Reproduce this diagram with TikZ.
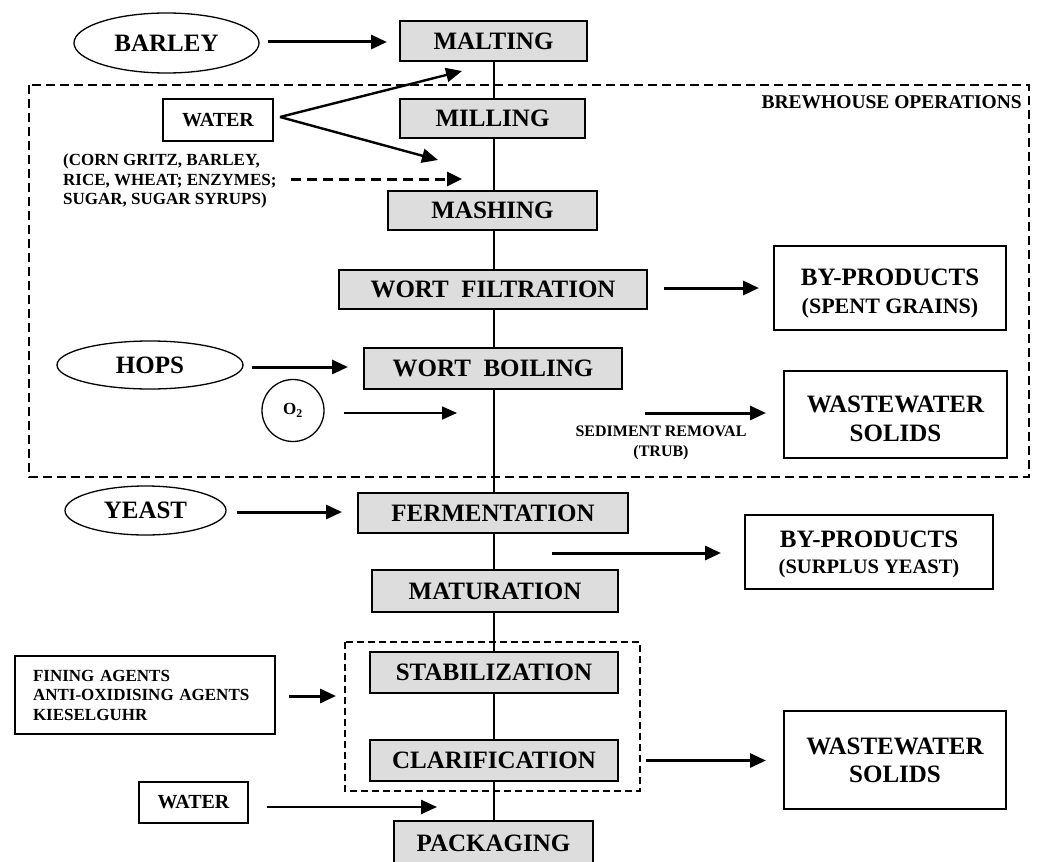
\documentclass[tikz,border=0pt]{standalone}
\usepackage{fontspec}
\setmainfont{Liberation Serif}
\usetikzlibrary{arrows.meta,shapes.geometric}
\definecolor{boxgray}{RGB}{221,221,221}
\newcommand\fbig{\fontsize{25}{29}\selectfont\bfseries}
\newcommand\fmid{\fontsize{22}{28}\selectfont\bfseries}
\newcommand\fwat{\fontsize{20}{24}\selectfont\bfseries}
\newcommand\fsmall{\fontsize{17}{19.5}\selectfont\bfseries}
\newcommand\ftiny{\fontsize{16}{20}\selectfont\bfseries}
\begin{document}
\begin{tikzpicture}[x=1pt,y=-1pt]
\useasboundingbox (0,0) rectangle (1040,861);
\tikzset{
  proc/.style={draw, line width=2pt, fill=boxgray, inner sep=0pt, font=\fbig},
  outbox/.style={draw, line width=2pt, inner sep=0pt, align=center},
  inbox/.style={draw, line width=2pt, inner sep=0pt, font=\fwat},
  inell/.style={draw, ellipse, line width=1.3pt, inner sep=0pt, font=\fbig},
  arr/.style={line width=3pt, -{Triangle[length=16pt,width=14pt]}},
  thinarr/.style={line width=2.4pt, -{Triangle[length=16pt,width=14pt]}},
  oarr/.style={line width=1.6pt, -{Triangle[length=15pt,width=13pt]}},
  dasharr/.style={line width=3pt, dash pattern=on 10pt off 6pt, -{Triangle[length=15pt,width=14pt]}},
  spine/.style={line width=2pt},
  region/.style={line width=2pt, dash pattern=on 9pt off 5pt},
  subregion/.style={line width=1.6pt, dash pattern=on 7pt off 4pt}
}
% regions
\draw[region] (29,85) rectangle (1029,477);
\draw[subregion] (345,642) rectangle (640,791);
\node[anchor=east, inner sep=0pt, font=\fontsize{19.5}{22}\selectfont\bfseries] (brew) at (1022,102) {BREWHOUSE OPERATIONS};

% spine coordinate
\coordinate (sp) at (494,0);

% process boxes
\node[proc, minimum width=187pt, minimum height=40pt] (malt) at (493.5,41) {MALTING};
\node[proc, minimum width=185pt, minimum height=39pt] (mill) at (492.5,118.5) {MILLING};
\node[proc, minimum width=209pt, minimum height=39pt] (mash) at (492.5,210.5) {MASHING};
\node[proc, minimum width=308pt, minimum height=39pt] (filt) at (493,289.5) {WORT\ \ FILTRATION};
\node[proc, minimum width=258pt, minimum height=41pt] (boil) at (493,368.5) {WORT\ \ BOILING};
\node[proc, minimum width=270pt, minimum height=40pt] (ferm) at (493,513) {FERMENTATION};
\node[proc, minimum width=246pt, minimum height=42pt] (matu) at (495,591) {MATURATION};
\node[proc, minimum width=248pt, minimum height=41pt] (stab) at (494,672.5) {STABILIZATION};
\node[proc, minimum width=248pt, minimum height=41pt] (clar) at (494,760.5) {CLARIFICATION};
\node[proc, minimum width=199pt, minimum height=44pt] (pack) at (493.5,843) {PACKAGING};

% spine connectors
\draw[spine] (malt.south -| sp) -- (mill.north -| sp);
\draw[spine] (mill.south -| sp) -- (mash.north -| sp);
\draw[spine] (mash.south -| sp) -- (filt.north -| sp);
\draw[spine] (filt.south -| sp) -- (boil.north -| sp);
\draw[spine] (boil.south -| sp) -- (ferm.north -| sp);
\draw[spine] (ferm.south -| sp) -- (matu.north -| sp);
\draw[spine] (matu.south -| sp) -- (stab.north -| sp);
\draw[spine] (stab.south -| sp) -- (clar.north -| sp);
\draw[spine] (clar.south -| sp) -- (pack.north -| sp);

% inputs
\node[inell, minimum width=185pt, minimum height=60pt] (barley) at (166.5,43) {BARLEY};
\node[inell, minimum width=186pt, minimum height=48pt] (hops) at (150,365) {HOPS};
\node[inell, minimum width=161pt, minimum height=49pt] (yeast) at (145.5,510.5) {YEAST};
\node[draw, circle, line width=1.3pt, minimum size=62pt, inner sep=0pt, font=\fontsize{17}{20}\selectfont\bfseries] (oxy) at (293,410.5) {O\textsubscript{2}};
\node[inbox, minimum width=110pt, minimum height=42pt] (water1) at (218,120) {WATER};
\node[inbox, minimum width=109pt, minimum height=41pt] (water2) at (193.5,802.5) {WATER};
\node[anchor=west, align=left, inner sep=0pt, font=\fsmall] (adj) at (63,181) {(CORN GRITZ, BARLEY,\\RICE, WHEAT; ENZYMES;\\SUGAR, SUGAR SYRUPS)};
\node[draw, line width=2pt, align=left, text width=224pt, inner xsep=18pt, inner ysep=0pt, minimum height=78pt, font=\fsmall] (fining) at (145,695) {FINING AGENTS\\ANTI-OXIDISING AGENTS\\KIESELGUHR};

% outputs
\node[outbox, font=\fontsize{25}{28}\selectfont\bfseries, minimum width=232pt, minimum height=84pt] (byp1) at (890,288) {\rule{0pt}{27pt}BY-PRODUCTS\\\fmid (SPENT GRAINS)};
\node[outbox, font=\fontsize{25}{29}\selectfont\bfseries, minimum width=223pt, minimum height=87pt] (ww1) at (895.5,414) {\rule{0pt}{27pt}WASTEWATER\\SOLIDS};
\node[outbox, font=\fontsize{25}{26}\selectfont\bfseries, minimum width=248pt, minimum height=74pt] (byp2) at (869,552) {\rule{0pt}{21pt}BY-PRODUCTS\\\fontsize{20.5}{26}\selectfont (SURPLUS YEAST)};
\node[outbox, font=\fontsize{25}{28}\selectfont\bfseries, minimum width=222pt, minimum height=98pt] (ww2) at (895,760) {WASTEWATER\\SOLIDS};
\node[align=center, inner sep=0pt, font=\ftiny] (sed) at (661,443) {SEDIMENT REMOVAL\\(TRUB)};

% free arrow ends
\coordinate (wtip1) at (462,71);
\coordinate (wtip2) at (438,160);
\coordinate (adjtip) at (462,179);
\coordinate (oxytip) at (457,413);
\coordinate (fintip) at (336,696);
\coordinate (w2tip) at (437,807);
\coordinate (sedstart) at (645,413);
\coordinate (yststart) at (552,553);

% input arrows
\draw[arr] ([xshift=8pt]barley.east |- 0,42) -- ([xshift=-12pt]malt.west |- 0,42);
\draw[thinarr] ([xshift=6pt,yshift=3pt]water1.east) -- (wtip1);
\draw[thinarr] ([xshift=6pt,yshift=3pt]water1.east) -- (wtip2);
\draw[dasharr] ([xshift=14pt]adj.east |- adjtip) -- (adjtip);
\draw[arr] ([xshift=8pt]hops.east |- 0,367) -- ([xshift=-15pt]boil.west |- 0,367);
\draw[oarr] ([xshift=19pt]oxy.east |- oxytip) -- (oxytip);
\draw[arr] ([xshift=10pt]yeast.east |- 0,512) -- ([xshift=-15pt]ferm.west |- 0,512);
\draw[arr] ([xshift=13pt]fining.east |- fintip) -- (fintip);
\draw[thinarr] ([xshift=18pt]water2.east |- w2tip) -- (w2tip);

% output arrows
\draw[arr] ([xshift=16pt]filt.east |- byp1.west) -- ([xshift=-14pt]byp1.west);
\draw[arr] (sedstart) -- ([xshift=-17pt]ww1.west |- sedstart);
\draw[arr] (yststart) -- ([xshift=-23pt]byp2.west |- yststart);
\draw[arr] ([xshift=27pt]clar.east) -- ([xshift=-17pt]ww2.west |- clar.east);
\end{tikzpicture}
\end{document}
